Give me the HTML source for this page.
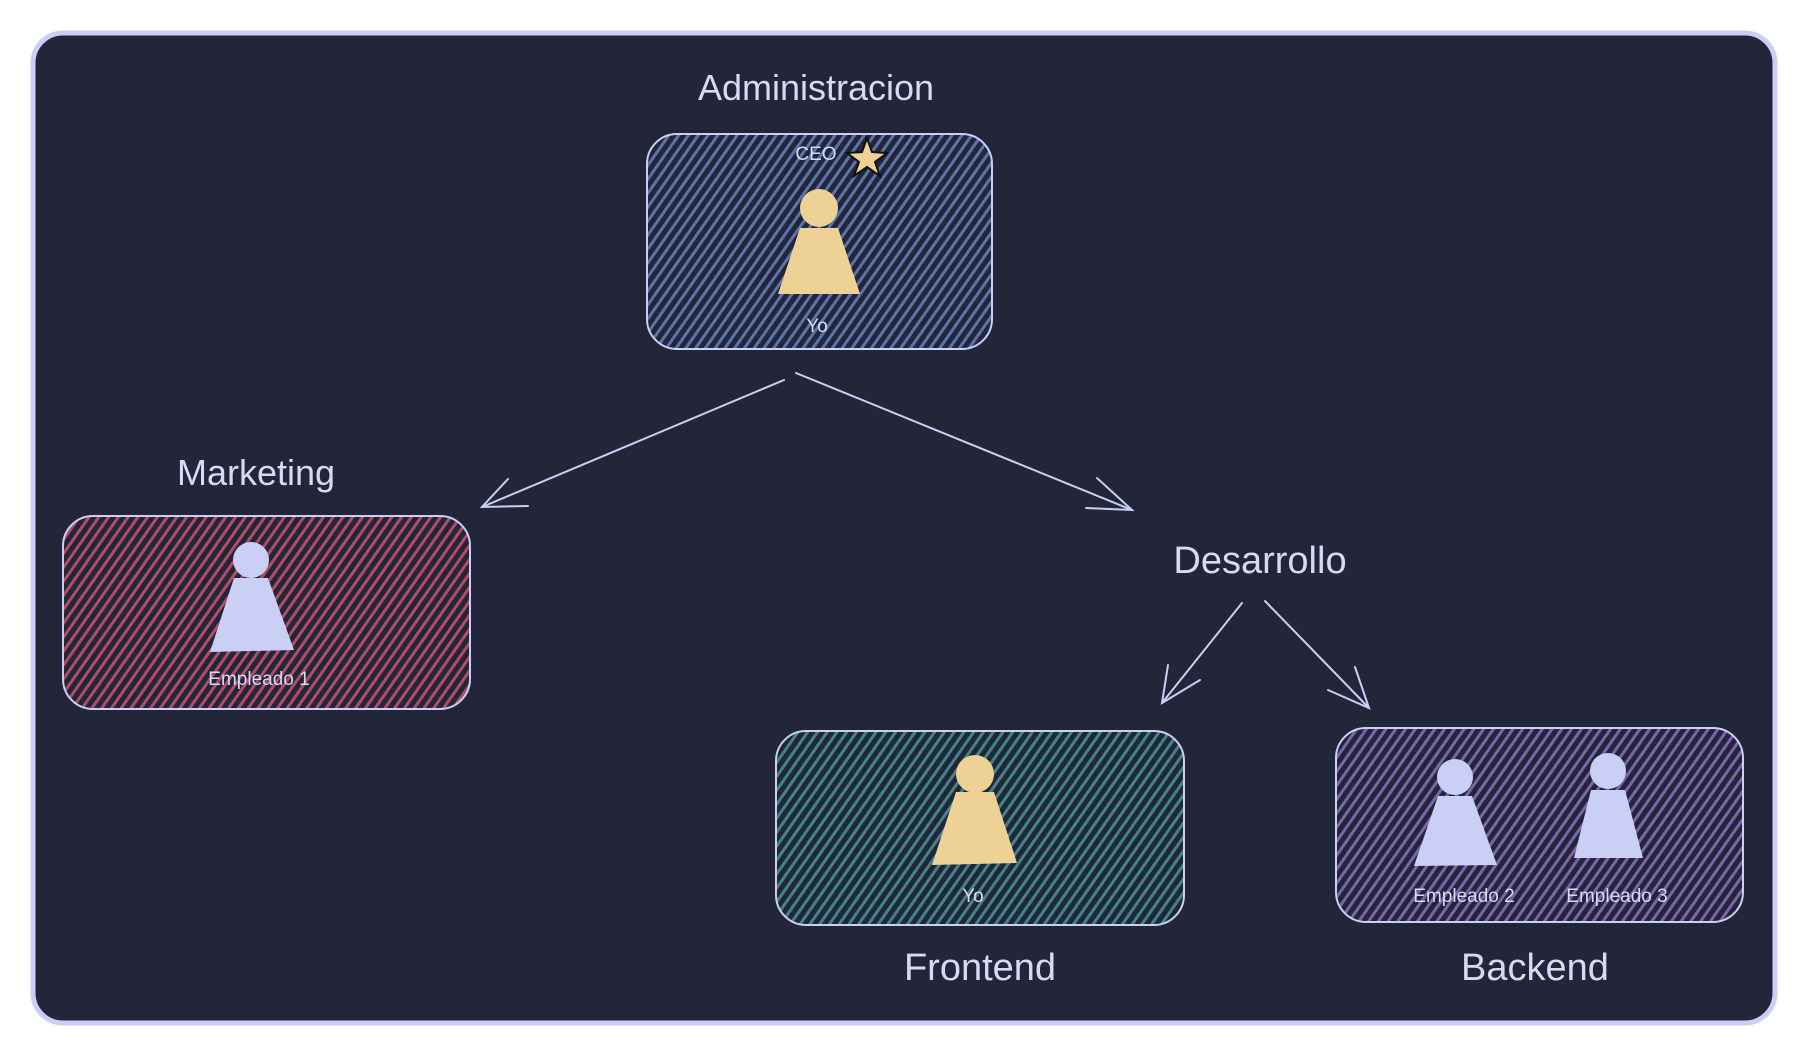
<!DOCTYPE html>
<html><head><meta charset="utf-8"><style>
html,body{margin:0;padding:0;background:#fff;width:1805px;height:1052px;overflow:hidden}
svg text{font-family:"Liberation Sans",sans-serif;fill:#d6daf5}
</style></head><body>
<svg width="1805" height="1052" viewBox="0 0 1805 1052">
<defs>
<pattern id="h" width="9" height="9" patternUnits="userSpaceOnUse" patternTransform="rotate(35)">
<line x1="0" y1="0" x2="0" y2="9" stroke-width="2.2" stroke="#000" stroke-opacity="0"/>
</pattern>
<pattern id="hb" width="8" height="8" patternUnits="userSpaceOnUse" patternTransform="rotate(35)"><rect width="8" height="8" fill="#232639"/><rect width="3" height="8" fill="#5b72ad"/></pattern>
<pattern id="hr" width="8" height="8" patternUnits="userSpaceOnUse" patternTransform="rotate(35)"><rect width="8" height="8" fill="#232639"/><rect width="3" height="8" fill="#b14c64"/></pattern>
<pattern id="ht" width="8" height="8" patternUnits="userSpaceOnUse" patternTransform="rotate(35)"><rect width="8" height="8" fill="#232639"/><rect width="3" height="8" fill="#3f8585"/></pattern>
<pattern id="hp" width="8" height="8" patternUnits="userSpaceOnUse" patternTransform="rotate(35)"><rect width="8" height="8" fill="#232639"/><rect width="3" height="8" fill="#7d62ad"/></pattern>
</defs>
<rect x="33" y="33" width="1742" height="990" rx="30" fill="#232639" stroke="#c9cff5" stroke-width="5"/>
<text x="816" y="100" font-size="36" text-anchor="middle">Administracion</text>
<rect x="647" y="134" width="345" height="215" rx="30" fill="url(#hb)" stroke="#c9cff5" stroke-width="2"/>
<text x="816" y="160" font-size="19" text-anchor="middle">CEO</text>
<polygon points="867,138 872,152 887,153 875,162 880,176 867,167 854,176 859,162 847,153 862,152" fill="#eed295" stroke="#111" stroke-width="2"/>
<circle cx="819" cy="208" r="19" fill="#eed295"/>
<path d="M800,228 L838,228 L860,294 L778,294 Z" fill="#eed295"/>
<text x="817" y="332" font-size="19" text-anchor="middle">Yo</text>

<text x="256" y="485" font-size="36" text-anchor="middle">Marketing</text>
<rect x="63" y="516" width="407" height="193" rx="30" fill="url(#hr)" stroke="#c9cff5" stroke-width="2"/>
<circle cx="251" cy="560" r="18" fill="#c9cff5"/>
<path d="M234,578 L268,578 L294,650 L210,652 Z" fill="#c9cff5"/>
<text x="259" y="685" font-size="19" text-anchor="middle">Empleado 1</text>

<text x="1260" y="573" font-size="38" text-anchor="middle">Desarrollo</text>

<rect x="776" y="731" width="408" height="194" rx="30" fill="url(#ht)" stroke="#c9cff5" stroke-width="2"/>
<circle cx="975" cy="774" r="19" fill="#eed295"/>
<path d="M956,792 L994,792 L1017,863 L932,865 Z" fill="#eed295"/>
<text x="973" y="902" font-size="19" text-anchor="middle">Yo</text>
<text x="980" y="980" font-size="38" text-anchor="middle">Frontend</text>

<rect x="1336" y="728" width="407" height="194" rx="30" fill="url(#hp)" stroke="#c9cff5" stroke-width="2"/>
<circle cx="1455" cy="777" r="18" fill="#c9cff5"/>
<path d="M1438,796 L1472,796 L1497,865 L1414,866 Z" fill="#c9cff5"/>
<circle cx="1608" cy="771" r="18" fill="#c9cff5"/>
<path d="M1591,790 L1625,790 L1643,858 L1574,858 Z" fill="#c9cff5"/>
<text x="1464" y="902" font-size="19" text-anchor="middle">Empleado 2</text>
<text x="1617" y="902" font-size="19" text-anchor="middle">Empleado 3</text>
<text x="1535" y="980" font-size="38" text-anchor="middle">Backend</text>

<g stroke="#c9cff5" stroke-width="2" fill="none" stroke-linecap="round">
<line x1="784" y1="380" x2="482" y2="507"/><polyline points="508,479 482,507 528,506"/>
<line x1="796" y1="373" x2="1132" y2="510"/><polyline points="1097,478 1132,510 1086,508"/>
<line x1="1242" y1="603" x2="1162" y2="703"/><polyline points="1168,665 1162,703 1200,680"/>
<line x1="1265" y1="601" x2="1369" y2="708"/><polyline points="1328,690 1369,708 1355,667"/>
</g>
</svg>
</body></html>
